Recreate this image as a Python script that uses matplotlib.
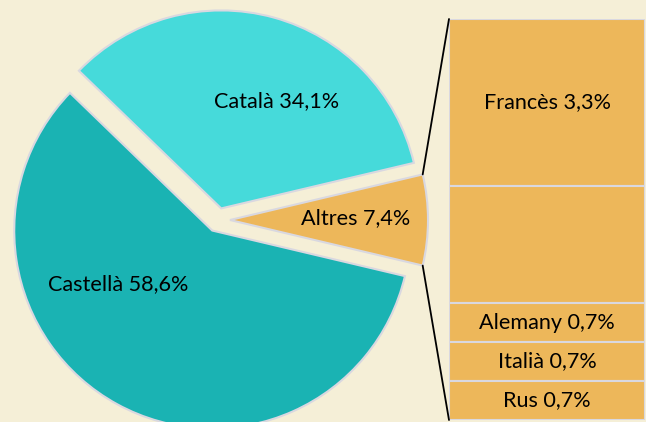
import matplotlib
matplotlib.use("Agg")
import matplotlib.pyplot as plt
from matplotlib.patches import ConnectionPatch
import numpy as np

# ---- data ----
pie_labels = ["Altres", "Català", "Castellà"]
pie_values = [7.4, 34.1, 58.6]
bar_labels = ["Francès 3,3%", "", "Alemany 0,7%", "Italià 0,7%", "Rus 0,7%"]
bar_values = [3.0, 2.1, 0.7, 0.7, 0.7]

# ---- style ----
BG = "#F5EFD7"
C_CAST = "#1AB3B3"
C_CAT = "#46DADA"
C_ALT = "#EDB75A"
EDGE = "#D9D8E0"
plt.rcParams['font.family'] = ['Lato', 'DejaVu Sans']

W, H = 646, 422
fig = plt.figure(figsize=(W / 100, H / 100), dpi=100, facecolor=BG)
ax = fig.add_axes([0, 0, 1, 1])
ax.set_facecolor(BG)

R = 198
center = (218, H - 220)
start = -pie_values[0] / sum(pie_values) * 360 / 2
wedges, _ = ax.pie(pie_values, colors=[C_ALT, C_CAT, C_CAST], startangle=start,
                   radius=R, center=center, explode=[12, 12, 12],
                   wedgeprops=dict(edgecolor=EDGE, linewidth=1.5), frame=True)
ax.set_xlim(0, W)
ax.set_ylim(0, H)
ax.set_aspect('equal')
ax.axis('off')

fs = 15.6
label_pos = {"Castellà": (118, H - 284), "Català": (277, H - 101), "Altres": (356, H - 218)}
for name, val in zip(pie_labels, pie_values):
    x, y = label_pos[name]
    ax.text(x, y, f"{name} {val:.1f}%".replace(".", ","), ha='center', va='center',
            fontsize=fs, color='black')

# ---- bar of pie ----
bx0, btop, bbot, bx1 = 449, 19, 420, 645
bax = fig.add_axes([bx0 / W, (H - bbot) / H, (bx1 - bx0) / W, (bbot - btop) / H])
bax.set_facecolor('none')
total = sum(bar_values)
bottom = 0
for lab, v in zip(bar_labels, bar_values):
    bax.bar(0, v, bottom=bottom, width=1, color=C_ALT, edgecolor=EDGE, linewidth=1.5)
    if lab:
        bax.text(0, bottom + v / 2, lab, ha='center', va='center', fontsize=fs)
    bottom += v
bax.set_xlim(-0.5, 0.5)
bax.set_ylim(total, 0)
bax.axis('off')

# ---- connector lines ----
w = wedges[0]
cx, cy = w.center
for theta, ybar in [(w.theta2, 0), (w.theta1, total)]:
    px = cx + w.r * np.cos(np.radians(theta))
    py = cy + w.r * np.sin(np.radians(theta))
    con = ConnectionPatch(xyA=(px, py), coordsA=ax.transData,
                          xyB=(-0.5, ybar), coordsB=bax.transData,
                          color='black', linewidth=1.3)
    fig.add_artist(con)

fig.savefig("out.png", dpi=100, facecolor=BG)
